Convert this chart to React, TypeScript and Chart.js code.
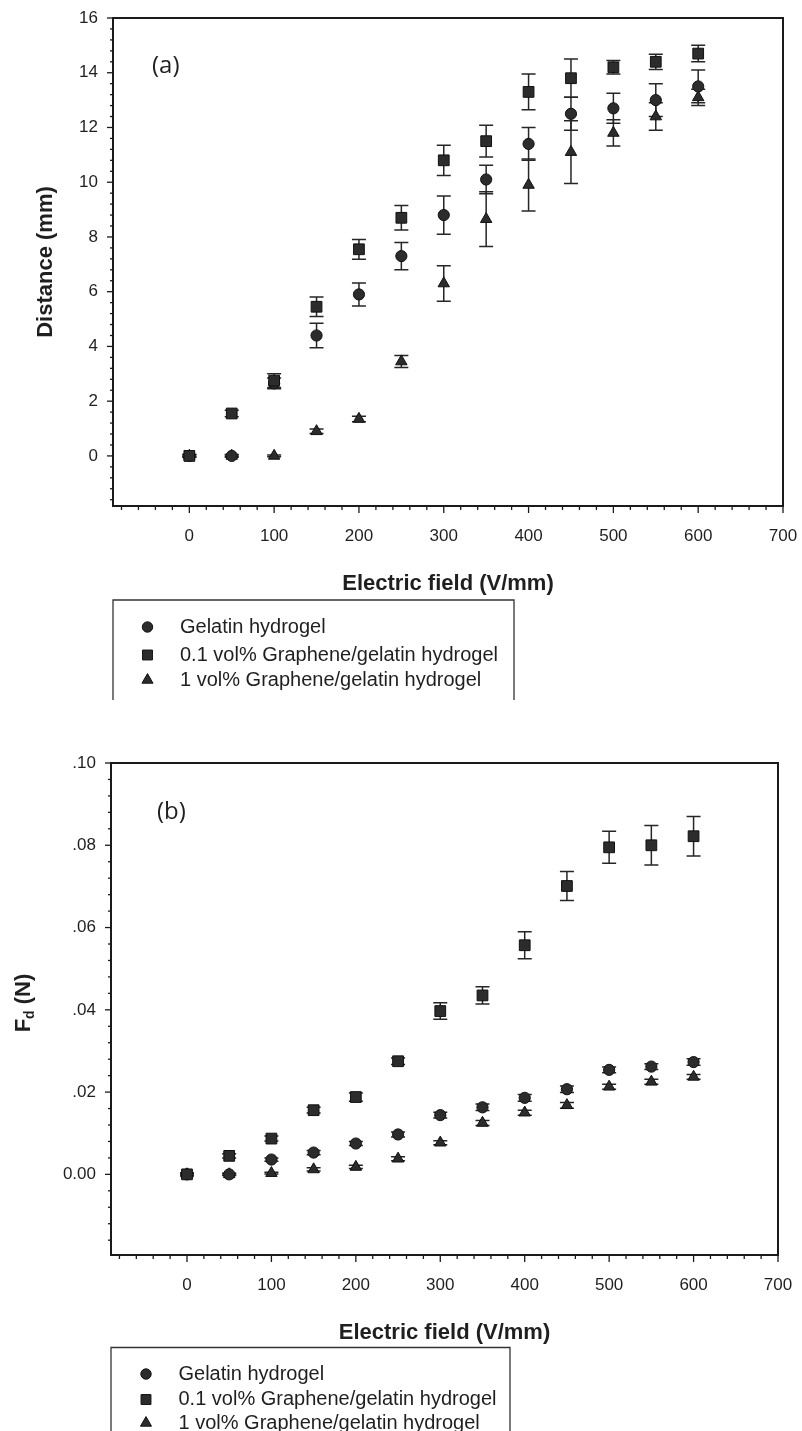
import React, { useEffect, useRef } from 'react';
import { Chart, registerables } from 'chart.js';

Chart.register(...registerables);

// ---------- data ----------
const fieldValues = [0, 50, 100, 150, 200, 250, 300, 350, 400, 450, 500, 550, 600];
const seriesLabels = [
  'Gelatin hydrogel',
  '0.1 vol% Graphene/gelatin hydrogel',
  '1 vol% Graphene/gelatin hydrogel',
];
const xTickValues = [0, 100, 200, 300, 400, 500, 600, 700];

// (a) Distance (mm)
const distGelatin = [0, 0, 2.65, 4.4, 5.9, 7.3, 8.8, 10.1, 11.4, 12.5, 12.7, 13.0, 13.5];
const distGelatinErr = [0.05, 0.05, 0.2, 0.45, 0.42, 0.5, 0.7, 0.52, 0.6, 0.6, 0.55, 0.6, 0.6];
const distGraphene01 = [0, 1.55, 2.75, 5.45, 7.55, 8.7, 10.8, 11.5, 13.3, 13.8, 14.2, 14.4, 14.7];
const distGraphene01Err = [0.05, 0.12, 0.25, 0.36, 0.36, 0.45, 0.55, 0.58, 0.65, 0.7, 0.25, 0.28, 0.3];
const distGraphene1 = [0, 0, 0, 0.9, 1.35, 3.45, 6.3, 8.65, 9.9, 11.1, 11.8, 12.4, 13.1];
const distGraphene1Err = [0.03, 0.03, 0.03, 0.08, 0.1, 0.22, 0.65, 1.0, 0.95, 1.15, 0.48, 0.5, 0.3];
const distTickValues = [0, 2, 4, 6, 8, 10, 12, 14, 16];

// (b) Fd (N)
const forceGelatin = [0, 0, 0.0036, 0.0053, 0.0075, 0.0097, 0.0144, 0.0163, 0.0186, 0.0207, 0.0254, 0.0262, 0.0273];
const forceGelatinErr = [0.0003, 0.0003, 0.0004, 0.0005, 0.0005, 0.0006, 0.0007, 0.0008, 0.0008, 0.0008, 0.0007, 0.0007, 0.0008];
const forceGraphene01 = [0, 0.0045, 0.0087, 0.0156, 0.0188, 0.0275, 0.0397, 0.0435, 0.0557, 0.0701, 0.0795, 0.08, 0.0822];
const forceGraphene01Err = [0.0004, 0.0005, 0.0006, 0.0007, 0.001, 0.0008, 0.002, 0.0021, 0.0033, 0.0035, 0.0039, 0.0048, 0.0048];
const forceGraphene1 = [0, 0, 0.0003, 0.0012, 0.0018, 0.0038, 0.0077, 0.0125, 0.015, 0.0168, 0.0213, 0.0225, 0.0237];
const forceGraphene1Err = [0.0002, 0.0002, 0.0002, 0.0004, 0.0004, 0.0005, 0.0005, 0.0006, 0.0006, 0.0007, 0.0006, 0.0006, 0.0006];
const forceTickValues = [0, 0.02, 0.04, 0.06, 0.08, 0.1];

// ---------- styles ----------
const FONT = '"Liberation Sans", Arial, Helvetica, sans-serif';
const INK = '#1f1f1f';
const MARK = '#2c2c2c';
const pointStyles = ['circle', 'rect', 'triangle'];
const pointRadii = [5.6, 7.6, 6.6];
const drawOrder = [1, 0, 2];

function drawMarker(ctx: CanvasRenderingContext2D, style: string, x: number, y: number, r: number) {
  ctx.beginPath();
  if (style === 'circle') {
    ctx.arc(x, y, r, 0, Math.PI * 2);
  } else if (style === 'rect') {
    const s = r * Math.SQRT1_2;
    ctx.rect(x - s, y - s, 2 * s, 2 * s);
  } else {
    let a = 0;
    ctx.moveTo(x + Math.sin(a) * r, y - Math.cos(a) * r);
    a += (2 * Math.PI) / 3;
    ctx.lineTo(x + Math.sin(a) * r, y - Math.cos(a) * r);
    a += (2 * Math.PI) / 3;
    ctx.lineTo(x + Math.sin(a) * r, y - Math.cos(a) * r);
    ctx.closePath();
  }
  ctx.fillStyle = MARK;
  ctx.fill();
  ctx.strokeStyle = '#111';
  ctx.lineWidth = 1;
  ctx.stroke();
}

const errorBarPlugin = {
  id: 'errorBars',
  beforeDatasetsDraw(chart: any) {
    const { ctx, scales } = chart;
    const x = scales.x, y = scales.y;
    ctx.save();
    ctx.strokeStyle = '#262626';
    ctx.lineWidth = 1.5;
    chart.data.datasets.forEach((ds: any) => {
      const errs: number[] = ds.errorBars;
      if (!errs) return;
      ds.data.forEach((p: any, j: number) => {
        const e = errs[j];
        if (!e) return;
        const px = x.getPixelForValue(p.x);
        const yt = y.getPixelForValue(p.y + e);
        const yb = y.getPixelForValue(p.y - e);
        const cap = 7;
        ctx.beginPath();
        ctx.moveTo(px, yt);
        ctx.lineTo(px, yb);
        ctx.moveTo(px - cap, yt);
        ctx.lineTo(px + cap, yt);
        ctx.moveTo(px - cap, yb);
        ctx.lineTo(px + cap, yb);
        ctx.stroke();
      });
    });
    ctx.restore();
  },
};

const framePlugin = {
  id: 'frameTicks',
  afterDraw(chart: any, _args: any, opts: any) {
    const { ctx, chartArea, scales } = chart;
    const { left, right, top, bottom } = chartArea;
    const x = scales.x, y = scales.y;
    ctx.save();
    ctx.strokeStyle = '#1a1a1a';
    ctx.lineWidth = 2;
    ctx.strokeRect(left, top, right - left, bottom - top);
    ctx.lineWidth = 1.3;
    const eps = 1e-7;
    for (let k = Math.ceil(x.min / opts.xStep - eps); k * opts.xStep <= x.max + eps; k++) {
      const v = k * opts.xStep;
      const px = x.getPixelForValue(v);
      const r = v / opts.xMajor;
      const major = Math.abs(r - Math.round(r)) < 1e-6;
      ctx.beginPath();
      ctx.moveTo(px, bottom);
      ctx.lineTo(px, bottom + (major ? 7 : 4));
      ctx.stroke();
    }
    for (let k = Math.ceil(y.min / opts.yStep - eps); k * opts.yStep <= y.max + eps; k++) {
      const v = k * opts.yStep;
      const py = y.getPixelForValue(v);
      const r = v / opts.yMajor;
      const major = Math.abs(r - Math.round(r)) < 1e-6;
      ctx.beginPath();
      ctx.moveTo(left, py);
      ctx.lineTo(left - (major ? 6 : 3), py);
      ctx.stroke();
    }
    ctx.restore();
  },
};

const annotationPlugin = {
  id: 'annotations',
  afterDraw(chart: any, _args: any, opts: any) {
    const { ctx } = chart;
    ctx.save();
    // panel tag
    ctx.fillStyle = INK;
    ctx.font = `24px "Open Sans", "Noto Sans", sans-serif`;
    ctx.textAlign = 'left';
    ctx.textBaseline = 'middle';
    ctx.fillText(opts.tag.text, opts.tag.x, opts.tag.y);

    // subscripted y title
    if (opts.subTitle) {
      const st = opts.subTitle;
      ctx.translate(st.x, st.y);
      ctx.rotate(-Math.PI / 2);
      ctx.textBaseline = 'alphabetic';
      const big = `bold 22px ${FONT}`;
      const small = `bold 14px ${FONT}`;
      ctx.font = big;
      const w1 = ctx.measureText(st.main).width;
      const w3 = ctx.measureText(st.rest).width;
      ctx.font = small;
      const w2 = ctx.measureText(st.sub).width;
      let cx = -(w1 + w2 + w3) / 2;
      ctx.font = big;
      ctx.fillText(st.main, cx, 7);
      cx += w1;
      ctx.font = small;
      ctx.fillText(st.sub, cx, 11);
      cx += w2;
      ctx.font = big;
      ctx.fillText(st.rest, cx, 7);
      ctx.setTransform(1, 0, 0, 1, 0, 0);
    }

    // legend box
    const lg = opts.legend;
    ctx.strokeStyle = '#333';
    ctx.lineWidth = 1.3;
    ctx.beginPath();
    ctx.moveTo(lg.left, lg.bottom);
    ctx.lineTo(lg.left, lg.top);
    ctx.lineTo(lg.right, lg.top);
    ctx.lineTo(lg.right, lg.bottom);
    ctx.stroke();
    ctx.font = `20px ${FONT}`;
    ctx.textBaseline = 'middle';
    chart.data.datasets.forEach((ds: any, i: number) => {
      const yy = lg.rows[i];
      drawMarker(ctx, pointStyles[i], lg.markerX, yy, i === 1 ? 7 : i === 2 ? 6.4 : 5.2);
      ctx.fillStyle = INK;
      ctx.fillText(ds.label, lg.textX, yy);
    });
    ctx.restore();
  },
};

function buildDatasets(values: number[][], errors: number[][]) {
  return values.map((vals, i) => ({
    label: seriesLabels[i],
    data: fieldValues.map((f, j) => ({ x: f, y: vals[j] })),
    errorBars: errors[i],
    pointStyle: pointStyles[i],
    pointRadius: pointRadii[i],
    pointHoverRadius: pointRadii[i],
    backgroundColor: MARK,
    borderColor: '#111',
    borderWidth: 1,
    showLine: false,
    order: drawOrder[i],
  }));
}

function makeConfig(p: any) {
  return {
    type: 'scatter',
    data: { datasets: buildDatasets(p.values, p.errors) },
    options: {
      responsive: false,
      animation: false,
      devicePixelRatio: 1,
      layout: { padding: p.padding },
      plugins: {
        legend: { display: false },
        tooltip: { enabled: false },
        frameTicks: p.ticks,
        annotations: p.annotations,
      },
      scales: {
        x: {
          type: 'linear',
          min: -90,
          max: 700,
          grid: { display: false, drawTicks: false },
          border: { display: false },
          afterBuildTicks: (s: any) => {
            s.ticks = xTickValues.map((v) => ({ value: v }));
          },
          afterFit: (s: any) => {
            s.height = p.xAxisHeight;
            s.paddingLeft = 0;
            s.paddingRight = 0;
          },
          ticks: {
            padding: 20,
            maxRotation: 0,
            autoSkip: false,
            color: INK,
            font: { size: 17, family: FONT },
            callback: (v: any) => String(v),
          },
          title: {
            display: true,
            text: 'Electric field (V/mm)',
            color: INK,
            font: { size: 22, weight: 'bold', family: FONT },
            padding: { top: 0, bottom: 0 },
          },
        },
        y: {
          type: 'linear',
          min: p.yMin,
          max: p.yMax,
          grid: { display: false, drawTicks: false },
          border: { display: false },
          afterBuildTicks: (s: any) => {
            s.ticks = p.yTicks.map((v: number) => ({ value: v }));
          },
          afterFit: (s: any) => {
            s.width = p.yAxisWidth;
            s.paddingTop = 0;
            s.paddingBottom = 0;
          },
          ticks: {
            padding: 15,
            autoSkip: false,
            color: INK,
            font: { size: 17, family: FONT },
            callback: p.yFormat,
          },
          title: p.yTitle
            ? {
                display: true,
                text: p.yTitle,
                color: INK,
                font: { size: 22, weight: 'bold', family: FONT },
                padding: { top: 33, bottom: 0 },
              }
            : { display: false },
        },
      },
    },
    plugins: [errorBarPlugin, framePlugin, annotationPlugin],
  };
}

const panelA = {
  values: [distGelatin, distGraphene01, distGraphene1],
  errors: [distGelatinErr, distGraphene01Err, distGraphene1Err],
  padding: { left: 0, top: 18, right: 19, bottom: 103.2 },
  xAxisHeight: 90.8,
  yAxisWidth: 113,
  yMin: -1.83,
  yMax: 16,
  yTicks: distTickValues,
  yFormat: (v: any) => String(v),
  yTitle: 'Distance (mm)',
  ticks: { xStep: 20, xMajor: 100, yStep: 0.4, yMajor: 2 },
  annotations: {
    tag: { text: '(a)', x: 152, y: 66 },
    legend: { left: 113, top: 600, right: 514, bottom: 700, markerX: 147.5, textX: 180, rows: [627, 655, 680] },
  },
};

const panelB = {
  values: [forceGelatin, forceGraphene01, forceGraphene1],
  errors: [forceGelatinErr, forceGraphene01Err, forceGraphene1Err],
  padding: { left: 0, top: 63, right: 24, bottom: 85.3 },
  xAxisHeight: 90.7,
  yAxisWidth: 111,
  yMin: -0.0196,
  yMax: 0.1,
  yTicks: forceTickValues,
  yFormat: (v: any) => (Math.abs(v) < 1e-9 ? '0.00' : Number(v).toFixed(2).replace(/^0/, '')),
  yTitle: null,
  ticks: { xStep: 20, xMajor: 100, yStep: 0.004, yMajor: 0.02 },
  annotations: {
    tag: { text: '(b)', x: 157, y: 112 },
    subTitle: { main: 'F', sub: 'd', rest: ' (N)', x: 23, y: 303 },
    legend: { left: 111, top: 647.5, right: 510, bottom: 731, markerX: 146, textX: 178.5, rows: [674, 699.5, 723] },
  },
};

function Panel({ spec, width, height }: { spec: any; width: number; height: number }) {
  const ref = useRef<HTMLCanvasElement | null>(null);
  useEffect(() => {
    if (!ref.current) return;
    Chart.defaults.font.family = FONT;
    const chart = new Chart(ref.current, makeConfig(spec) as any);
    return () => chart.destroy();
  }, [spec]);
  return <canvas ref={ref} width={width} height={height} style={{ display: 'block', width, height }} />;
}

export default function App() {
  return (
    <div style={{ position: 'absolute', left: 0, top: 0, width: 802, height: 1431, background: '#fff' }}>
      <Panel spec={panelA} width={802} height={700} />
      <Panel spec={panelB} width={802} height={731} />
    </div>
  );
}
